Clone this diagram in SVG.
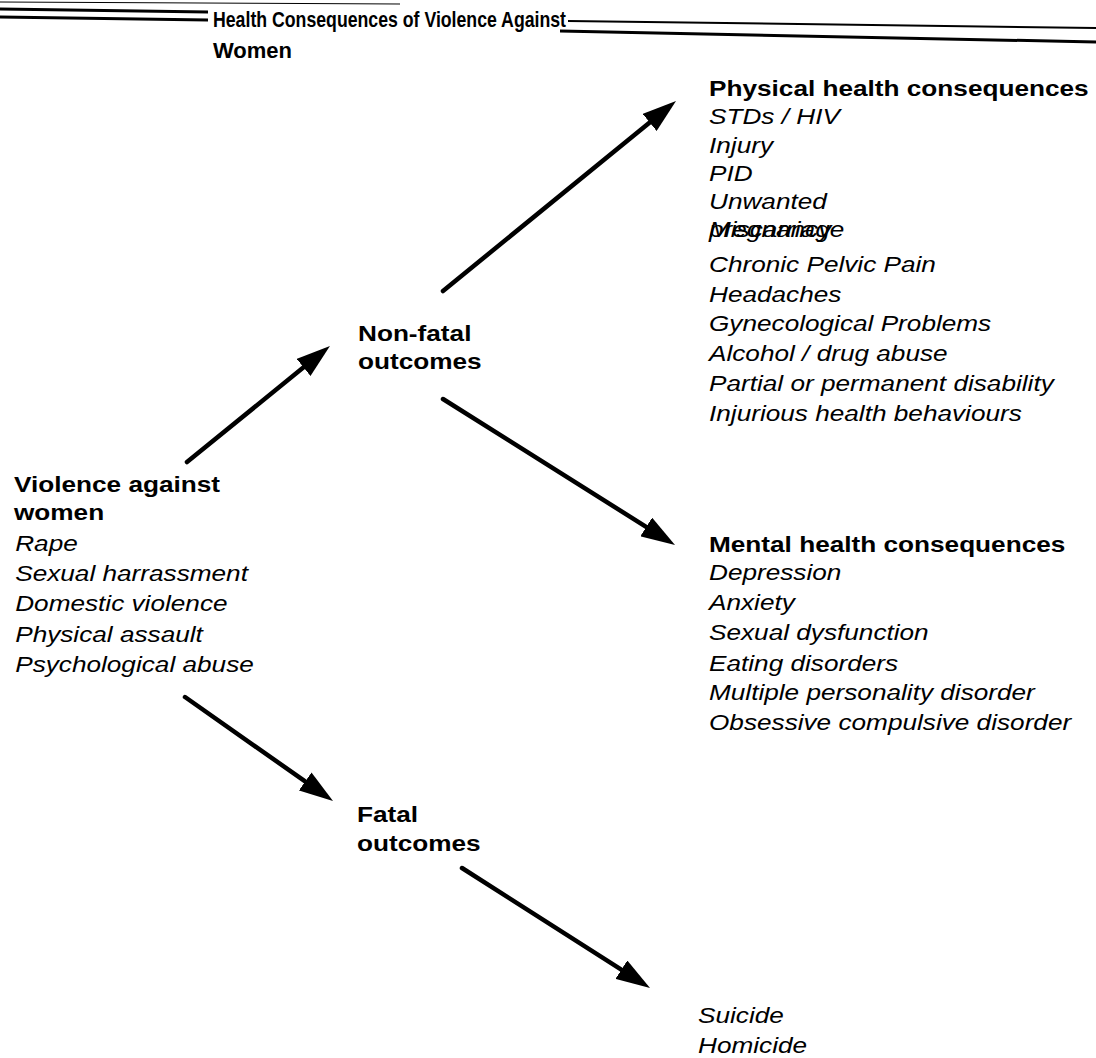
<svg xmlns="http://www.w3.org/2000/svg" width="1096" height="1058" viewBox="0 0 1096 1058">
<style>
text{font-family:"Liberation Sans",Arial,sans-serif;font-size:22px;fill:#000}
.b{font-weight:bold}
.i{font-style:italic}
.t{font-weight:bold;font-size:22px}
.rule{stroke:#000;fill:none}
.conn{stroke:#000;stroke-width:4.5;fill:none;stroke-linecap:round}
</style>
<defs>
<marker id="ah" viewBox="0 0 34 22" refX="6" refY="11" markerWidth="34" markerHeight="22" markerUnits="userSpaceOnUse" orient="auto">
<path d="M0,0 L34,11 L0,22 Z" fill="#000"/>
</marker>
</defs>
<rect width="1096" height="1058" fill="#fff"/>
<g id="title">
<path class="rule" stroke-width="3" d="M0,9 L208,12"/>
<path class="rule" stroke-width="3" d="M0,17 L208,20"/>
<path class="rule" stroke-width="1" d="M0,2 L400,4"/>
<path class="rule" stroke-width="2" d="M568,21 L1096,28"/>
<path class="rule" stroke-width="3" d="M560,31 L1096,42"/>
<text class="t" x="213" y="27" textLength="353" lengthAdjust="spacingAndGlyphs">Health Consequences of Violence Against</text>
<text class="t" x="213" y="58">Women</text>
</g>
<g id="connectors">
<path class="conn" marker-end="url(#ah)" d="M187,462 L308.2,363.6"/>
<path class="conn" marker-end="url(#ah)" d="M185,697 L310.1,784.9"/>
<path class="conn" marker-end="url(#ah)" d="M443,291 L654.3,118.7"/>
<path class="conn" marker-end="url(#ah)" d="M443,399 L651.3,530.1"/>
<path class="conn" marker-end="url(#ah)" d="M462,868 L626.4,972.9"/>
</g>
<g id="violence" transform="translate(14,0) scale(1.19,1)">
<text class="b" x="0" y="492">Violence against</text>
<text class="b" x="0" y="520">women</text>
<text class="i" x="1" y="551">Rape</text>
<text class="i" x="1" y="581">Sexual harrassment</text>
<text class="i" x="1" y="611">Domestic violence</text>
<text class="i" x="1" y="642">Physical assault</text>
<text class="i" x="1" y="672">Psychological abuse</text>
</g>
<g id="nonfatal" transform="translate(358,0) scale(1.19,1)">
<text class="b" x="0" y="341">Non-fatal</text>
<text class="b" x="0" y="369">outcomes</text>
</g>
<g id="fatal" transform="translate(357,0) scale(1.19,1)">
<text class="b" x="0" y="822">Fatal</text>
<text class="b" x="0" y="851">outcomes</text>
</g>
<g id="physical" transform="translate(709,0) scale(1.19,1)">
<text class="b" x="0" y="96">Physical health consequences</text>
<text class="i" x="0" y="124">STDs / HIV</text>
<text class="i" x="0" y="153">Injury</text>
<text class="i" x="0" y="181">PID</text>
<text class="i" x="0" y="209">Unwanted</text>
<text class="i" x="0" y="237">pregnancy</text>
<text class="i" x="0" y="237">Miscarriage</text>
<text class="i" x="0" y="272">Chronic Pelvic Pain</text>
<text class="i" x="0" y="302">Headaches</text>
<text class="i" x="0" y="331">Gynecological Problems</text>
<text class="i" x="0" y="361">Alcohol / drug abuse</text>
<text class="i" x="0" y="391">Partial or permanent disability</text>
<text class="i" x="0" y="421">Injurious health behaviours</text>
</g>
<g id="mental" transform="translate(709,0) scale(1.19,1)">
<text class="b" x="0" y="552">Mental health consequences</text>
<text class="i" x="0" y="580">Depression</text>
<text class="i" x="0" y="610">Anxiety</text>
<text class="i" x="0" y="640">Sexual dysfunction</text>
<text class="i" x="0" y="671">Eating disorders</text>
<text class="i" x="0" y="700">Multiple personality disorder</text>
<text class="i" x="0" y="730">Obsessive compulsive disorder</text>
</g>
<g id="fatal-outcomes" transform="translate(698,0) scale(1.19,1)">
<text class="i" x="0" y="1023">Suicide</text>
<text class="i" x="0" y="1053">Homicide</text>
</g>
</svg>
